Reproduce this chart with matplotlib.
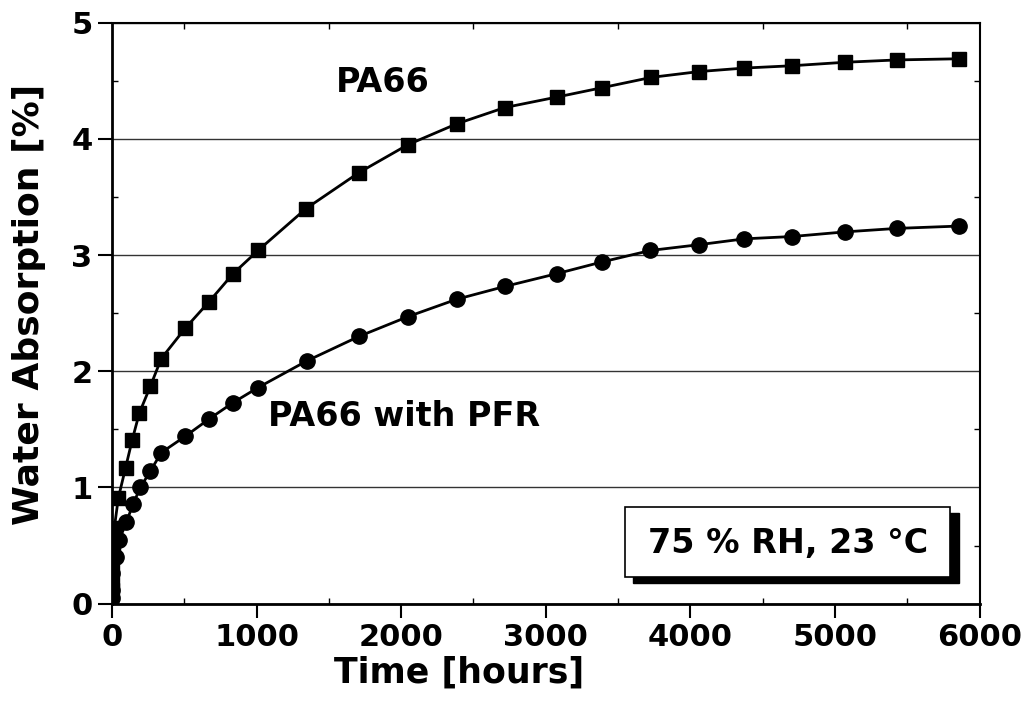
import numpy as np
import matplotlib.pyplot as plt
from matplotlib.patches import Rectangle
from matplotlib.ticker import MultipleLocator

plt.rcParams['font.family'] = ['DejaVu Sans']
plt.rcParams['font.weight'] = 'bold'

# PA66 (squares)
t_pa66 = [1, 2, 4, 8, 17, 45, 95, 141, 190, 266, 342, 507, 673, 838, 1011,
          1342, 1708, 2046, 2384, 2716, 3075, 3385, 3730, 4061, 4372, 4703,
          5069, 5428, 5856]
w_pa66 = [0.12, 0.20, 0.30, 0.44, 0.65, 0.91, 1.17, 1.41, 1.64, 1.87, 2.11,
          2.37, 2.60, 2.84, 3.04, 3.40, 3.71, 3.95, 4.13, 4.27, 4.36, 4.44,
          4.53, 4.58, 4.61, 4.63, 4.66, 4.68, 4.69]

# PA66 with PFR (circles)
t_pfr = [1, 2, 4, 31, 52, 100, 148, 197, 266, 342, 507, 673, 838, 1011,
         1349, 1708, 2046, 2384, 2716, 3075, 3385, 3723, 4061, 4372, 4703,
         5069, 5428, 5856]
w_pfr = [0.05, 0.12, 0.26, 0.40, 0.55, 0.70, 0.86, 1.00, 1.14, 1.30, 1.44,
         1.59, 1.73, 1.86, 2.09, 2.30, 2.47, 2.62, 2.73, 2.84, 2.94, 3.04,
         3.09, 3.14, 3.16, 3.20, 3.23, 3.25]

fig = plt.figure(figsize=(10.26, 7.11), dpi=100)
ax = fig.add_axes([0.109, 0.151, 0.846, 0.817])

ax.plot(t_pa66, w_pa66, color='black', lw=2, marker='s', ms=10, zorder=3)
ax.plot(t_pfr, w_pfr, color='black', lw=2, marker='o', ms=11, zorder=3)

ax.set_xlim(0, 6000)
ax.set_ylim(0, 5)
ax.xaxis.set_major_locator(MultipleLocator(1000))
ax.xaxis.set_minor_locator(MultipleLocator(500))
ax.yaxis.set_major_locator(MultipleLocator(1))
ax.yaxis.set_minor_locator(MultipleLocator(0.5))

ax.grid(axis='y', which='major', color='#333333', lw=1.0)
ax.set_axisbelow(True)

ax.tick_params(which='major', direction='out', length=10, width=1.5,
               labelsize=22, top=False, right=False, pad=4)
ax.tick_params(which='minor', direction='in', length=4, width=1,
               top=True, right=True)
for lab in ax.get_xticklabels() + ax.get_yticklabels():
    lab.set_fontweight('bold')

for s in ['left', 'bottom']:
    ax.spines[s].set_linewidth(2)
for s in ['top', 'right']:
    ax.spines[s].set_linewidth(1.5)

ax.set_xlabel('Time [hours]', fontsize=25, fontweight='bold')
ax.set_ylabel('Water Absorption [%]', fontsize=26, fontweight='bold')
ax.xaxis.set_label_coords(0.4, -0.09)
ax.yaxis.set_label_coords(-0.076, 0.515)

ax.text(1874, 4.49, 'PA66', fontsize=24, fontweight='bold',
        ha='center', va='center')
ax.text(1080, 1.61, 'PA66 with PFR', fontsize=24, fontweight='bold',
        ha='left', va='center')

# box with drop shadow
ax.add_patch(Rectangle((3605, 0.175), 2250, 0.605, facecolor='black',
                       edgecolor='black', zorder=4))
ax.add_patch(Rectangle((3545, 0.23), 2250, 0.60, facecolor='white',
                       edgecolor='black', lw=1.2, zorder=5))
ax.text(4676, 0.52, '75 % RH, 23 °C', fontsize=24, fontweight='bold',
        ha='center', va='center', zorder=6)

fig.savefig('out.png', dpi=100)
